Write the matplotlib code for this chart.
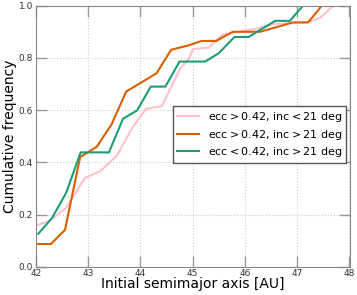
import numpy as np
import matplotlib
matplotlib.use("Agg")
import matplotlib.pyplot as plt

# ecc > 0.42, inc < 21 deg
a_pink = [42.0, 42.27, 42.58, 42.94, 43.23, 43.55, 43.86, 44.11, 44.41, 44.76,
          44.94, 45.0, 45.31, 45.58, 46.25, 46.54, 47.18, 47.43, 47.69]
f_pink = [0.157, 0.177, 0.225, 0.34, 0.365, 0.425, 0.536, 0.605, 0.615, 0.757,
          0.80, 0.833, 0.84, 0.89, 0.913, 0.93, 0.936, 0.952, 1.0]

# ecc > 0.42, inc > 21 deg
a_orange = [42.0, 42.29, 42.56, 42.85, 42.98, 43.17, 43.45, 43.73, 44.31, 44.59,
            44.94, 45.17, 45.45, 45.77, 46.29, 46.92, 47.21, 47.47]
f_orange = [0.087, 0.087, 0.141, 0.42, 0.436, 0.46, 0.545, 0.671, 0.741, 0.831,
            0.849, 0.865, 0.865, 0.9, 0.9, 0.936, 0.936, 1.0]

# ecc < 0.42, inc > 21 deg
a_green = [42.05, 42.31, 42.58, 42.86, 43.4, 43.67, 43.94, 44.2, 44.48, 44.75,
           45.24, 45.5, 45.8, 46.07, 46.58, 46.86, 47.11]
f_green = [0.126, 0.186, 0.282, 0.438, 0.438, 0.567, 0.599, 0.69, 0.69, 0.786,
           0.786, 0.818, 0.88, 0.88, 0.942, 0.942, 1.0]

fig = plt.figure(figsize=(3.57, 2.95), dpi=100)
ax = fig.add_axes([35.7/357, 1 - 266.7/295, 313.8/357, 261/295])

ax.plot(a_pink, f_pink, color='pink', lw=1.5,
        label=r'ecc$>$0.42, inc$<$21 deg')
ax.plot(a_orange, f_orange, color='#d95f02', lw=1.5,
        label=r'ecc$>$0.42, inc$>$21 deg')
ax.plot(a_green, f_green, color='#1b9e77', lw=1.5,
        label=r'ecc$<$0.42, inc$>$21 deg')

ax.set_xlim(42, 48)
ax.set_ylim(0, 1)
ax.set_xticks(np.arange(42, 49, 1))
ax.set_yticks(np.arange(0, 1.01, 0.2))
ax.tick_params(direction='in', length=8, width=1, color='#999999',
               labelsize=6.5, labelcolor='#333333', top=True, right=True, pad=2)
for s in ax.spines.values():
    s.set_color('#888888')
ax.grid(True, ls=':', color='#cccccc', lw=0.8)
ax.set_xlabel('Initial semimajor axis [AU]', fontsize=10)
ax.set_ylabel('Cumulative frequency', fontsize=10)
ax.xaxis.set_label_coords(0.5, -0.04)
ax.yaxis.set_label_coords(-0.058, 0.5)

leg = ax.legend(loc='upper right', bbox_to_anchor=(0.989, 0.614), fontsize=8,
                fancybox=False, framealpha=1, handlelength=2.0,
                borderpad=0.35, labelspacing=0.3, borderaxespad=0)
leg.get_frame().set_edgecolor('#555555')

fig.savefig('out.png', dpi=100)
